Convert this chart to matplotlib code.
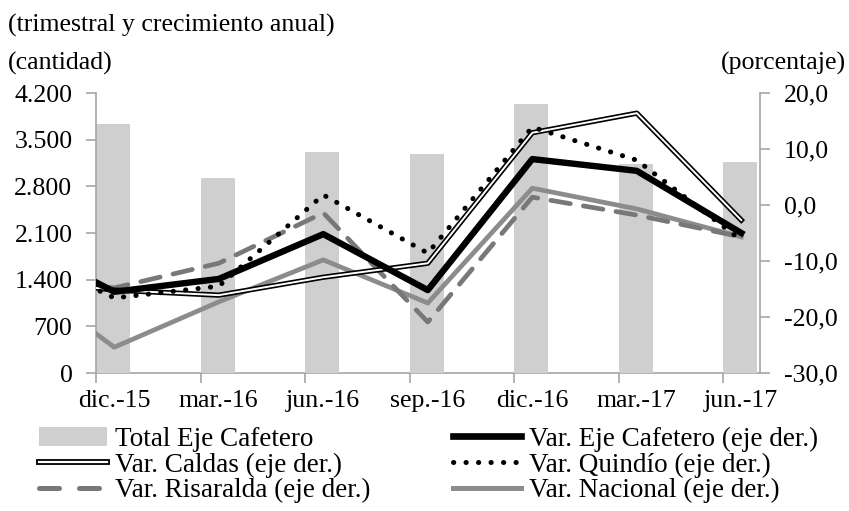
import matplotlib
matplotlib.use('Agg')
import matplotlib.pyplot as plt
import numpy as np
from matplotlib.lines import Line2D
from matplotlib.patches import Patch

plt.rcParams['font.family'] = ['Liberation Serif', 'DejaVu Serif']
FS = 18.6
LEG_FS = 19.5

# Data
quarters = ['dic.-15', 'mar.-16', 'jun.-16', 'sep.-16', 'dic.-16', 'mar.-17', 'jun.-17']
total_eje = [3740, 2925, 3310, 3280, 4030, 3130, 3160]

# growth series (%), first value is the previous quarter (sep.-15), clipped by the axis
var_eje = [-5.8, -15.5, -13.2, -5.2, -15.2, 8.2, 6.1, -5.0]
var_caldas = [-13.0, -15.2, -16.1, -12.9, -10.4, 12.9, 16.4, -2.7]
var_quindio = [-7.7, -16.6, -14.5, 1.8, -8.6, 13.9, 8.0, -6.3]
var_risaralda = [-13.0, -14.8, -10.4, -1.4, -20.9, 1.4, -1.8, -5.7]
var_nacional = [-11.5, -25.4, -17.3, -9.8, -17.5, 3.0, -0.7, -5.7]

left_ticks = [0, 700, 1400, 2100, 2800, 3500, 4200]
right_ticks = [-30, -20, -10, 0, 10, 20]

BAR_C = '#d0cfcf'
AX_C = '#a6a6a6'
NAC_C = '#8c8c8c'
RIS_C = '#7a7777'
OFF = 0.175  # bars / points sit to the right of each tick

fig = plt.figure(figsize=(8.49, 5.11), dpi=100)
ax = fig.add_axes([96 / 849, 1 - 373 / 511, (760 - 96) / 849, (373 - 93) / 511])
ax2 = ax.twinx()

x = np.arange(len(quarters))
ax.bar(x, total_eje, width=0.33, align='edge', color=BAR_C, zorder=1)
ax.set_xlim(0, 6.354)
ax.set_ylim(0, 4200)
ax.set_yticks(left_ticks)
ax.set_yticklabels([f'{v:,}'.replace(',', '.') for v in left_ticks])
ax.set_xticks(x)
ax.set_xticklabels([])
ax.set_xticks(x + OFF, minor=True)
ax.set_xticklabels(quarters, minor=True)

ax2.set_ylim(-30, 20)
ax2.set_yticks(right_ticks)
ax2.set_yticklabels([f'{v:.1f}'.replace('.', ',') for v in right_ticks])

xl = np.arange(-1, len(quarters)) + OFF
ax2.plot(xl, var_nacional, color=NAC_C, lw=3.4, zorder=2)
ax2.plot(xl, var_risaralda, color=RIS_C, lw=3.4, linestyle=(0, (4.2, 2.8)),
         dash_capstyle='round', zorder=3)
ax2.plot(xl, var_caldas, color='black', lw=3.8, zorder=4)
ax2.plot(xl, var_caldas, color='white', lw=1.4, zorder=5)
ax2.plot(xl, var_quindio, color='black', lw=3.6, linestyle=(0, (0.05, 2.45)),
         dash_capstyle='round', zorder=6)
ax2.plot(xl, var_eje, color='black', lw=4.6, zorder=7)

for a in (ax, ax2):
    for s in a.spines.values():
        s.set_visible(False)
    a.tick_params(colors=AX_C, labelcolor='black', labelsize=FS, length=7, width=1.2,
                  direction='out', pad=10)
ax.tick_params(axis='x', which='minor', length=0, pad=12, labelsize=FS)
ax2.tick_params(axis='y', pad=10)
ax.spines['left'].set_visible(True)
ax.spines['bottom'].set_visible(True)
ax2.spines['right'].set_visible(True)
for s in (ax.spines['left'], ax.spines['bottom'], ax2.spines['right']):
    s.set_color(AX_C)
    s.set_linewidth(1.2)
ax.spines['bottom'].set_zorder(0.5)

fig.text(8 / 849, 1 - 25 / 511, '(trimestral y crecimiento anual)', fontsize=FS,
         ha='left', va='center')
fig.text(8 / 849, 1 - 63 / 511, '(cantidad)', fontsize=FS, ha='left', va='center')
fig.text(846 / 849, 1 - 63 / 511, '(porcentaje)', fontsize=FS, ha='right', va='center')

h_total = Patch(facecolor=BAR_C, edgecolor='none')
h_eje = Line2D([], [], color='black', lw=4.8)
h_caldas = (Line2D([], [], color='black', lw=4.2), Line2D([], [], color='white', lw=1.6))
h_quindio = Line2D([], [], color='black', lw=3.6, linestyle=(0, (0.05, 2.45)),
                   dash_capstyle='round')
h_ris = Line2D([], [], color=RIS_C, lw=3.6, linestyle=(0, (4.0, 4.0)), dash_capstyle='round')
h_nac = Line2D([], [], color=NAC_C, lw=3.6)

handles = [h_total, h_caldas, h_ris, h_eje, h_quindio, h_nac]
labels = ['Total Eje Cafetero', 'Var. Caldas (eje der.)', 'Var. Risaralda (eje der.)',
          'Var. Eje Cafetero (eje der.)', 'Var. Quindío (eje der.)', 'Var. Nacional (eje der.)']
fig.legend(handles, labels, loc='upper left', bbox_to_anchor=(34 / 849, 1 - 421 / 511),
           ncol=2, frameon=False, fontsize=LEG_FS, handlelength=2.5, handletextpad=0.3,
           columnspacing=3.05, labelspacing=0.03, borderaxespad=0, borderpad=0.2,
           handleheight=0.7)

fig.savefig('out.png', dpi=100)
